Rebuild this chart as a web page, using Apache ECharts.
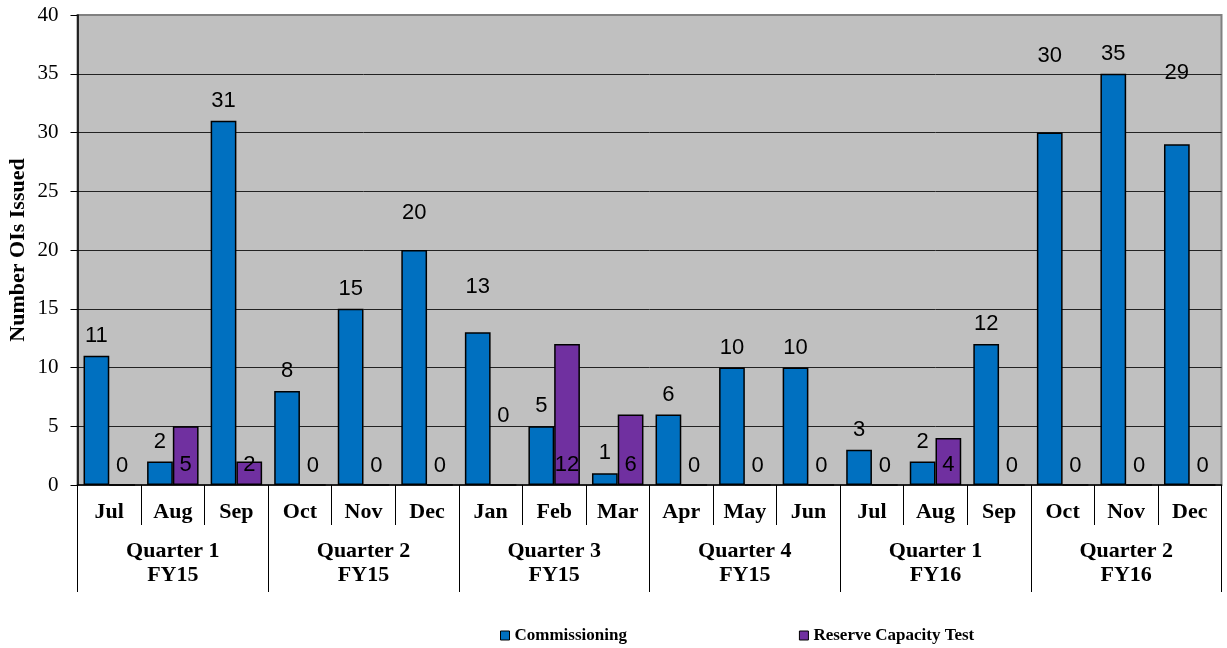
<!DOCTYPE html>
<html>
<head>
<meta charset="utf-8">
<script src="https://cdn.jsdelivr.net/npm/echarts@6/dist/echarts.min.js"></script>
<style>
  html, body { margin: 0; padding: 0; background: #fff; }
  #main { width: 1227px; height: 648px; }
</style>
</head>
<body>
<div id="main"></div>
<script>
var months = ['Jul', 'Aug', 'Sep', 'Oct', 'Nov', 'Dec', 'Jan', 'Feb', 'Mar', 'Apr', 'May', 'Jun',
              'Jul', 'Aug', 'Sep', 'Oct', 'Nov', 'Dec'];
var quarters = ['Quarter 1\nFY15', 'Quarter 2\nFY15', 'Quarter 3\nFY15', 'Quarter 4\nFY15',
                'Quarter 1\nFY16', 'Quarter 2\nFY16'];
var commissioning = [11, 2, 31, 8, 15, 20, 13, 5, 1, 6, 10, 10, 3, 2, 12, 30, 35, 29];
var reserveTest   = [0, 5, 2, 0, 0, 0, 0, 12, 6, 0, 0, 0, 0, 4, 0, 0, 0, 0];
var yTicks = [0, 40, 5];

// labels that Excel pushed higher than usual (extra px)
var blueLift = { 5: 17, 6: 25, 15: 57, 17: 51 };
var purpleLift = { 6: 50 };

var serif = "'Liberation Serif', 'Times New Roman', serif";
var sans = "'Liberation Sans', Arial, sans-serif";

function withLift(values, lift) {
	return values.map(function(v, i) {
		if (lift[i] == null) return v;
		return { value: v, label: { distance: 9 + lift[i] } };
	});
}

var myChart = echarts.init(document.getElementById('main'));
var option = {
	animation: false,
	grid: {
		left: 77.5,
		right: 5.5,
		top: 15,
		bottom: 163,
		outerBoundsMode: 'none',
		containLabel: false,
		show: true,
		backgroundColor: '#c0c0c0',
		borderColor: '#808080',
		borderWidth: 2
	},
	legend: {
		left: 495,
		top: 622,
		itemWidth: 9,
		itemHeight: 9,
		itemGap: 172,
		icon: 'rect',
		itemStyle: { borderColor: '#000', borderWidth: 1 },
		textStyle: { fontFamily: serif, fontWeight: 'bold', fontSize: 17, color: '#000' },
		data: ['Commissioning', 'Reserve Capacity Test']
	},
	xAxis: [{
		type: 'category',
		position: 'bottom',
		data: months,
		axisLine: { lineStyle: { color: '#000', width: 1.5 } },
		axisTick: { show: true, length: 40, interval: 0, lineStyle: { color: '#000', width: 1 } },
		axisLabel: {
			interval: 0, margin: 16, color: '#000',
			fontFamily: serif, fontWeight: 'bold', fontSize: 22
		}
	}, {
		type: 'category',
		position: 'bottom',
		offset: 0,
		data: quarters,
		axisLine: { show: false },
		axisTick: { show: true, length: 107, interval: 0, lineStyle: { color: '#000', width: 1 } },
		axisLabel: {
			interval: 0, margin: 54, color: '#000', lineHeight: 24,
			fontFamily: serif, fontWeight: 'bold', fontSize: 22
		}
	}],
	yAxis: {
		type: 'value',
		min: yTicks[0],
		max: yTicks[1],
		interval: yTicks[2],
		name: 'Number OIs Issued',
		nameLocation: 'middle',
		nameGap: 48,
		nameMoveOverlap: false,
		nameTextStyle: { fontFamily: serif, fontWeight: 'bold', fontSize: 22, color: '#000' },
		axisLine: { show: true, lineStyle: { color: '#000', width: 1.5 } },
		axisTick: { show: true, length: 7, lineStyle: { color: '#000' } },
		axisLabel: { margin: 19, color: '#000', fontFamily: serif, fontSize: 21 },
		splitLine: { show: true, showMaxLine: false, showMinLine: false, lineStyle: { color: '#222', width: 1 } }
	},
	series: [{
		name: 'Commissioning',
		type: 'bar',
		data: withLift(commissioning, blueLift),
		barGap: '0%',
		barCategoryGap: '19%',
		itemStyle: { color: '#0070c0', borderColor: '#000', borderWidth: 1.5 },
		label: {
			show: true, position: 'top', distance: 9,
			fontFamily: sans, fontSize: 22, color: '#000'
		}
	}, {
		name: 'Reserve Capacity Test',
		type: 'bar',
		data: withLift(reserveTest, purpleLift),
		barGap: '0%',
		barCategoryGap: '19%',
		itemStyle: { color: '#7030a0', borderColor: '#000', borderWidth: 1.5 },
		label: {
			show: true, position: 'insideBottom', distance: 9,
			fontFamily: sans, fontSize: 22, color: '#000'
		}
	}]
};
myChart.setOption(option);
</script>
</body>
</html>
